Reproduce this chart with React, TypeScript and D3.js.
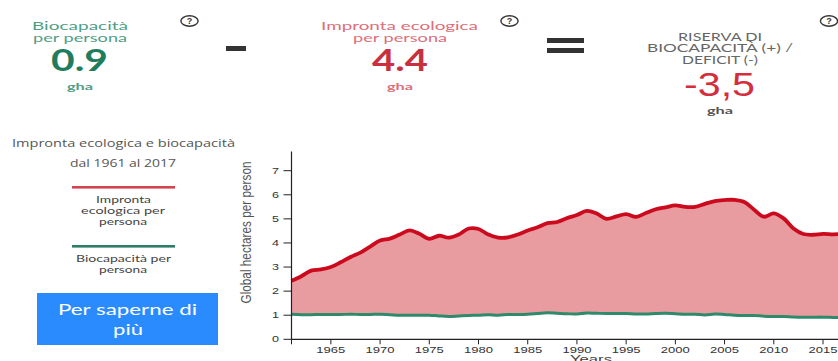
import React from "react";
import * as d3 from "d3";

const years = d3.range(1961, 2018);
const footprint = [
  2.43, 2.62, 2.85, 2.9, 3.0, 3.2, 3.42, 3.6, 3.85, 4.1, 4.18, 4.35, 4.52, 4.38, 4.17, 4.3, 4.22, 4.35, 4.6,
  4.58, 4.35, 4.22, 4.23, 4.35, 4.52, 4.65, 4.82, 4.87, 5.03, 5.16, 5.33, 5.22, 5.0, 5.1, 5.2, 5.08, 5.24,
  5.4, 5.48, 5.56, 5.5, 5.5, 5.62, 5.74, 5.78, 5.79, 5.7, 5.38, 5.09, 5.23, 5.02, 4.6, 4.37, 4.34, 4.38,
  4.36, 4.37,
];
const biocapacity = [
  1.04, 1.02, 1.02, 1.03, 1.03, 1.03, 1.04, 1.03, 1.03, 1.04, 1.02, 1.0, 1.0, 1.0, 1.0, 0.97, 0.95, 0.97,
  0.99, 1.0, 1.02, 1.0, 1.03, 1.03, 1.04, 1.07, 1.1, 1.08, 1.06, 1.05, 1.09, 1.08, 1.07, 1.07, 1.07, 1.05,
  1.05, 1.07, 1.08, 1.06, 1.04, 1.04, 1.01, 1.05, 1.03, 1.0, 0.99, 0.99, 0.96, 0.95, 0.95, 0.93, 0.92, 0.92,
  0.92, 0.91, 0.9,
];
const xTicks = [1965, 1970, 1975, 1980, 1985, 1990, 1995, 2000, 2005, 2010, 2015];
const yTicks = [0, 1, 2, 3, 4, 5, 6, 7];

const GOTHIC = "Lato, 'Open Sans', sans-serif";
const ARIAL = "'Liberation Sans', Arial, sans-serif";
const GREEN = "#1f7d5e";
const RED = "#c9303f";
const INK = "#444444";

const x = d3.scaleLinear().domain([1961, 2015]).range([291.5, 823]);
const y = d3.scaleLinear().domain([0, 7]).range([339.3, 170.7]);

const rows = years.map((year, i) => ({ year, footprint: footprint[i], biocapacity: biocapacity[i] }));
type Row = (typeof rows)[number];
const curve = d3.curveCatmullRom.alpha(0.5);
const band = d3.area<Row>().x((d) => x(d.year)).y0((d) => y(d.biocapacity)).y1((d) => y(d.footprint)).curve(curve);
const topLine = d3.line<Row>().x((d) => x(d.year)).y((d) => y(d.footprint)).curve(curve);
const lowLine = d3.line<Row>().x((d) => x(d.year)).y((d) => y(d.biocapacity)).curve(curve);

// Text is stretched to a fixed span so the wide headline lettering holds its measure.
function Label(p: { x0: number; x1: number; cy: number; size: number; fill: string; text: string; font?: string; weight?: number }) {
  return (
    <text
      x={p.x0}
      y={p.cy + p.size * 0.35}
      fontSize={p.size}
      fill={p.fill}
      fontFamily={p.font ?? GOTHIC}
      fontWeight={p.weight ?? 400}
      textLength={p.x1 - p.x0}
      lengthAdjust="spacingAndGlyphs"
    >
      {p.text}
    </text>
  );
}

function Help({ cx }: { cx: number }) {
  return (
    <g>
      <ellipse cx={cx} cy={21} rx={8.6} ry={5.2} fill="none" stroke="#333" strokeWidth={1.4} />
      <text x={cx} y={24.3} fontSize={9} fontWeight={700} textAnchor="middle" fill="#333" fontFamily={ARIAL}>?</text>
    </g>
  );
}

export default function App() {
  return (
    <svg width={838} height={361} style={{ position: "absolute", left: 0, top: 0, background: "#fff" }}>
      <defs>
        <clipPath id="plot"><rect x={285} y={140} width={553} height={205} /></clipPath>
      </defs>

      {/* Headline equation */}
      <Label x0={32} x1={128} cy={26} size={11} fill="#4f9d84" text="Biocapacità" />
      <Label x0={33} x1={127} cy={38} size={11} fill="#4f9d84" text="per persona" />
      <Label x0={51} x1={108} cy={60} size={31} fill={GREEN} text="0.9" weight={700} />
      <Label x0={67} x1={93} cy={86} size={10} fill="#4f9d84" text="gha" weight={700} />
      <Help cx={189.5} />
      <rect x={226} y={46} width={20} height={5} fill="#333" />

      <Label x0={321} x1={478} cy={26} size={11} fill="#de6d78" text="Impronta ecologica" />
      <Label x0={353} x1={447} cy={38} size={11} fill="#de6d78" text="per persona" />
      <Label x0={372} x1={428} cy={60} size={31} fill={RED} text="4.4" weight={700} />
      <Label x0={387} x1={413} cy={86} size={10} fill="#de6d78" text="gha" weight={700} />
      <Help cx={509.5} />
      <rect x={547} y={38} width={37} height={5} fill="#333" />
      <rect x={547} y={48} width={37} height={5} fill="#333" />

      <Label x0={678} x1={762} cy={37} size={10.5} fill="#666" text="RISERVA DI" />
      <Label x0={647} x1={793} cy={48} size={10.5} fill="#666" text="BIOCAPACITÀ (+) /" />
      <Label x0={682} x1={758} cy={60} size={10.5} fill="#666" text="DEFICIT (-)" />
      <Label x0={684} x1={755} cy={84} size={34} fill="#d42e3c" text="-3,5" font={ARIAL} />
      <Label x0={707} x1={733} cy={110} size={10} fill="#555" text="gha" weight={700} />
      <Help cx={829} />

      {/* Side panel */}
      <Label x0={12} x1={235} cy={143} size={11.5} fill="#555" text="Impronta ecologica e biocapacità" font="'Open Sans', sans-serif" />
      <Label x0={70} x1={176} cy={163} size={11.5} fill="#555" text="dal 1961 al 2017" font="'Open Sans', sans-serif" />
      <rect x={72} y={186} width={103} height={2.6} fill="#d2444f" />
      <Label x0={96} x1={151} cy={200} size={9.5} fill={INK} text="Impronta" />
      <Label x0={81} x1={165} cy={211} size={9.5} fill={INK} text="ecologica per" />
      <Label x0={99} x1={147} cy={222} size={9.5} fill={INK} text="persona" />
      <rect x={72} y={245} width={103} height={2.6} fill="#2b7f66" />
      <Label x0={76} x1={171} cy={259} size={9.5} fill={INK} text="Biocapacità per" />
      <Label x0={99} x1={147} cy={270} size={9.5} fill={INK} text="persona" />
      <rect x={37} y={293} width={181} height={52} fill="#2a8bff" />
      <Label x0={58} x1={197} cy={309} size={16} fill="#fff" text="Per saperne di" />
      <Label x0={113} x1={143} cy={329} size={16} fill="#fff" text="più" />

      {/* Marks */}
      <g clipPath="url(#plot)">
        <path d={band(rows) ?? ""} fill="#e99c9f" />
        <path d={lowLine(rows) ?? ""} fill="none" stroke="#2f8a6c" strokeWidth={3} />
        <path d={topLine(rows) ?? ""} fill="none" stroke="#cb0a1e" strokeWidth={3.8} />
      </g>

      {/* Axes */}
      <path d={`M${x(1961)},${y(7.8)}V${y(0)}H838`} fill="none" stroke="#222" strokeWidth={1.2} />
      {yTicks.map((t) => (
        <g key={t}>
          <line x1={x(1961) - 8} x2={x(1961)} y1={y(t)} y2={y(t)} stroke="#222" strokeWidth={1} />
          <Label x0={272} x1={279} cy={y(t)} size={8.5} fill="#333" text={String(t)} font={ARIAL} />
        </g>
      ))}
      <line x1={x(1961)} x2={x(1961)} y1={y(0)} y2={y(0) + 5} stroke="#222" strokeWidth={1} />
      {xTicks.map((t) => (
        <g key={t}>
          <line x1={x(t)} x2={x(t)} y1={y(0)} y2={y(0) + 5} stroke="#222" strokeWidth={1} />
          <Label x0={x(t) - 14.5} x1={x(t) + 14.5} cy={350} size={8.5} fill="#333" text={String(t)} font={ARIAL} />
        </g>
      ))}
      <Label x0={570} x1={612} cy={359} size={10.5} fill="#444" text="Years" font={ARIAL} />
      <g transform="translate(245,232.5) rotate(-90)">
        <text x={-71} y={5.5} fontSize={15.5} fill="#555" fontFamily={ARIAL} textLength={142} lengthAdjust="spacingAndGlyphs">
          Global hectares per person
        </text>
      </g>
    </svg>
  );
}
